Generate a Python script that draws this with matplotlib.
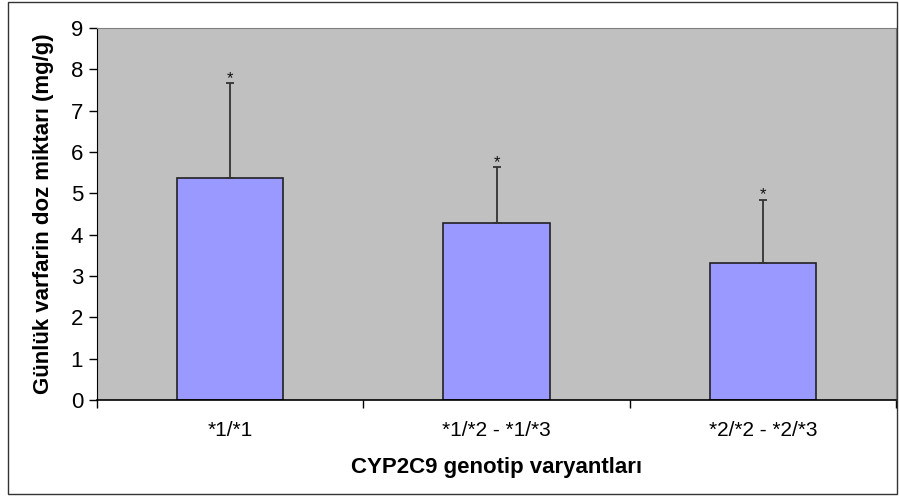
import numpy as np
import matplotlib.pyplot as plt
from matplotlib.patches import Rectangle

plt.rcParams['font.family'] = ['Liberation Sans', 'DejaVu Sans']

# Data
genotypes = ["*1/*1", "*1/*2 - *1/*3", "*2/*2 - *2/*3"]
doses = [5.37, 4.28, 3.31]
sd_upper = [2.29, 1.36, 1.54]
marks = ["*", "*", "*"]

fig = plt.figure(figsize=(8.99, 4.98), dpi=100)
ax = fig.add_axes([97 / 899, 98 / 498, 799 / 899, 372 / 498])
ax.set_facecolor('#C0C0C0')

x = np.arange(len(genotypes))
ax.bar(x, doses, width=0.4, color='#9999FF', edgecolor='#222222', linewidth=1.2, zorder=2)
ax.errorbar(x, doses, yerr=[np.zeros(len(doses)), sd_upper], fmt='none',
            ecolor='#333333', elinewidth=1.3, capsize=3, capthick=1.3, zorder=3)

# Significance marks above the error bars
for xi, d, e, m in zip(x, doses, sd_upper, marks):
    ax.annotate(m, (xi, d + e), xytext=(0, -2), textcoords='offset points',
                ha='center', va='bottom', fontsize=12, color='#111111')

ax.set_xlim(-0.5, 2.5)
ax.set_ylim(0, 9)
ax.set_yticks(np.arange(0, 10, 1))
ax.tick_params(axis='y', labelsize=16, length=6, width=1, direction='out', pad=4)

# category boundaries as ticks, labels centred between them
ax.set_xticks(np.arange(-0.5, 3, 1))
ax.set_xticklabels([])
ax.set_xticks(x, minor=True)
ax.set_xticklabels(genotypes, minor=True, fontsize=15)
ax.tick_params(axis='x', which='major', length=6, width=1, direction='out')
ax.tick_params(axis='x', which='minor', length=0, pad=15)

ax.spines['left'].set_color('black')
ax.spines['bottom'].set_color('black')
ax.spines['bottom'].set_linewidth(1.2)
ax.spines['top'].set_color('#808080')
ax.spines['right'].set_color('#808080')

ax.set_xlabel('CYP2C9 genotip varyantları', fontsize=16, fontweight='bold', labelpad=12)
ax.set_ylabel('Günlük varfarin doz miktarı (mg/g)', fontsize=16, fontweight='bold', labelpad=12)

# outer chart border
fig.patches.append(Rectangle((8 / 899, 4 / 498), 889 / 899, 492 / 498, transform=fig.transFigure,
                             fill=False, edgecolor='#333333', linewidth=1.0))

fig.savefig('out.png', dpi=100)
